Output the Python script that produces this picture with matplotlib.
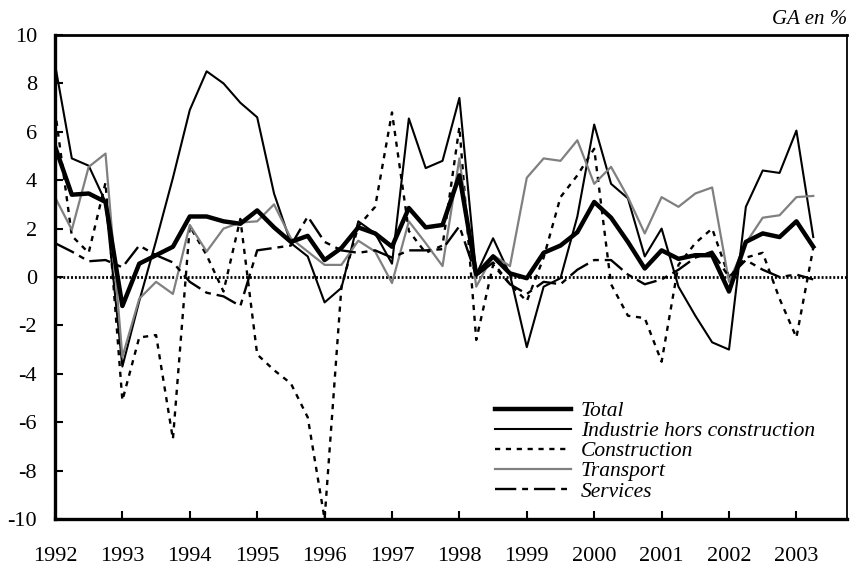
import matplotlib
matplotlib.use("Agg")
import matplotlib.pyplot as plt

plt.rcParams['font.family'] = ['Liberation Serif', 'DejaVu Serif']
plt.rcParams['axes.unicode_minus'] = False

# quarterly growth rates, 1992Q1 .. 2003Q2
years = list(range(1992, 2004))
total = [5.4, 3.4, 3.45, 3.1, -1.2, 0.55, 0.9, 1.25, 2.5, 2.5, 2.3, 2.2,
         2.75, 2.05, 1.45, 1.7, 0.7, 1.2, 2.05, 1.8, 1.25, 2.85, 2.05, 2.15,
         4.2, 0.1, 0.85, 0.15, -0.05, 1.0, 1.3, 1.85, 3.1, 2.45, 1.45, 0.35,
         1.1, 0.75, 0.9, 0.9, -0.6, 1.45, 1.8, 1.65, 2.3, 1.25]
industrie = [8.8, 4.9, 4.6, 3.1, -3.7, -1.0, 1.5, 4.1, 6.9, 8.5, 8.0, 7.2,
             6.6, 3.45, 1.4, 0.85, -1.05, -0.45, 2.3, 1.8, 0.55, 6.55, 4.5, 4.8,
             7.4, 0.1, 1.6, 0.1, -2.9, -0.4, -0.05, 2.5, 6.3, 3.85, 3.25, 0.85,
             2.0, -0.4, -1.6, -2.7, -3.0, 2.9, 4.4, 4.3, 6.05, 1.65]
construction = [6.9, 1.7, 1.0, 3.9, -5.1, -2.5, -2.4, -6.7, 2.1, 0.9, -0.6, 2.4,
                -3.2, -3.85, -4.4, -5.8, -10.0, -0.4, 2.1, 2.9, 6.8, 1.9, 1.0, 1.3,
                6.2, -2.6, 0.5, -0.3, -1.0, 0.8, 3.3, 4.2, 5.3, -0.3, -1.6, -1.7,
                -3.5, 0.5, 1.4, 2.0, 0.0, 0.8, 1.0, -0.9, -2.5, 1.2]
transport = [3.3, 1.95, 4.55, 5.1, -3.3, -0.9, -0.2, -0.7, 2.15, 1.05, 2.0, 2.25,
             2.3, 3.0, 1.6, 1.05, 0.5, 0.5, 1.5, 1.05, -0.25, 2.3, 1.4, 0.45,
             4.9, -0.4, 0.9, 0.45, 4.1, 4.9, 4.8, 5.65, 3.85, 4.55, 3.3, 1.8,
             3.3, 2.9, 3.45, 3.7, -0.2, 1.4, 2.45, 2.55, 3.3, 3.35]
services = [1.4, 1.05, 0.65, 0.7, 0.4, 1.3, 0.9, 0.6, -0.2, -0.65, -0.8, -1.2,
            1.1, 1.2, 1.3, 2.5, 1.45, 1.1, 1.0, 1.1, 0.8, 1.1, 1.1, 1.15,
            2.1, 0.05, 0.6, -0.3, -0.7, -0.2, -0.3, 0.3, 0.7, 0.7, 0.1, -0.3,
            -0.1, 0.3, 0.8, 1.05, 0.0, 0.7, 0.3, 0.0, 0.1, -0.1]

q = list(range(len(total)))

fig = plt.figure(figsize=(8.55, 5.69), dpi=100)
ax = fig.add_axes([0.0643, 0.0879, 0.9263, 0.8506])

ax.axhline(0, color='black', lw=2.0, ls=(0, (0.7, 0.7)), zorder=1)

ax.plot(q, industrie, color='black', lw=1.5, label='Industrie hors construction')
ax.plot(q, construction, color='black', lw=1.7, ls=(0, (2.2, 2.4)), label='Construction')
ax.plot(q, transport, color='#808080', lw=1.6, label='Transport')
ax.plot(q, services, color='black', lw=1.7, ls=(0, (9, 2.5, 2.5, 2.5)), label='Services')
ax.plot(q, total, color='black', lw=3.2, label='Total', zorder=5)

ax.set_xlim(0, 47)
ax.set_ylim(-10, 10)
ax.set_yticks(range(-10, 11, 2))
ax.set_xticks([4 * (y - 1992) for y in years])
ax.set_xticklabels([str(y) for y in years])

ax.tick_params(direction='in', length=6, width=1.5, labelsize=16)
ax.tick_params(axis='y', pad=13, left=True, right=False)
ax.tick_params(axis='x', pad=20, top=False)
for side, w in (('left', 2.4), ('bottom', 2.4), ('top', 2.0), ('right', 1.3)):
    ax.spines[side].set_linewidth(w)

handles, labels = ax.get_legend_handles_labels()
order = [4, 0, 1, 2, 3]
leg = ax.legend([handles[i] for i in order], [labels[i] for i in order],
                loc='lower left', bbox_to_anchor=(0.556, 0.036), frameon=False,
                prop={'style': 'italic', 'size': 15.5}, handlelength=3.5,
                handletextpad=0.47, labelspacing=0.0, borderpad=0, borderaxespad=0)

fig.text(0.9906, 0.965, 'GA en %', ha='right', va='center', style='italic', fontsize=15)

fig.savefig('out.png', dpi=100)
